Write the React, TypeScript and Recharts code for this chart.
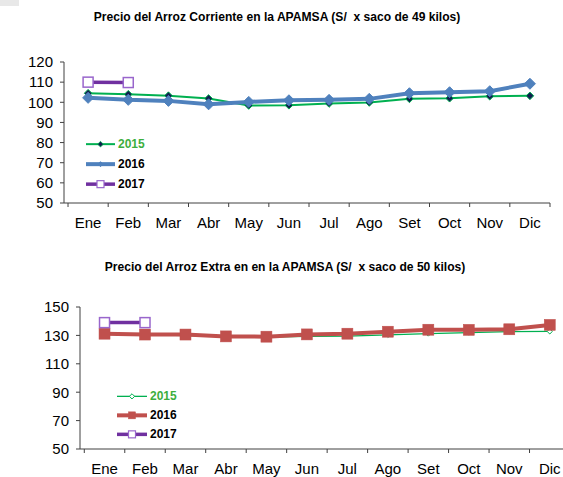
import { LineChart, Line, XAxis, YAxis } from "recharts";

const months = ["Ene", "Feb", "Mar", "Abr", "May", "Jun", "Jul", "Ago", "Set", "Oct", "Nov", "Dic"];
const years = ["2015", "2016", "2017"];

// Arroz corriente (S/ x saco de 49 kilos)
const corriente2015 = [104.5, 104, 103.3, 101.9, 98.4, 98.5, 99.4, 99.9, 101.7, 102, 103, 103.2];
const corriente2016 = [102.2, 101.2, 100.7, 99, 100.2, 101, 101.2, 101.7, 104.5, 105, 105.5, 109.2];
const corriente2017 = [110, 109.8];
const corrienteTicks = [50, 60, 70, 80, 90, 100, 110, 120];

// Arroz extra (S/ x saco de 50 kilos)
const extra2015 = [131, 130.6, 129.8, 129.3, 128.8, 129.3, 129.5, 130.4, 131.3, 132, 132.7, 132.8];
const extra2016 = [131.2, 130.6, 130.6, 129.3, 129.1, 130.7, 131.2, 132.6, 134, 133.9, 134.3, 137.4];
const extra2017 = [139, 139];
const extraTicks = [50, 70, 90, 110, 130, 150];

const FONT = "'Liberation Sans', Arial, sans-serif";
const AXIS = "#404040";

function buildRows(a: number[], b: number[], c: number[]) {
  return months.map((m, i) => ({
    x: i + 0.5,
    month: m,
    y2015: a[i],
    y2016: b[i],
    y2017: c[i] ?? null,
  }));
}

const corrienteRows = buildRows(corriente2015, corriente2016, corriente2017);
const extraRows = buildRows(extra2015, extra2016, extra2017);

// boundaries 0..12 get a tick mark, centres i+0.5 get the month name
const xTicks = [
  ...months.map((_, i) => i),
  months.length,
  ...months.map((_, i) => i + 0.5),
].sort((p, q) => p - q);

function MonthTick(props: any) {
  const { x, y, payload } = props;
  const v = payload.value as number;
  if (Number.isInteger(v)) {
    return <line x1={x} x2={x} y1={y} y2={y + 4} stroke={AXIS} strokeWidth={1} />;
  }
  return (
    <text x={x} y={y + 25} textAnchor="middle" fontSize={15} fontFamily={FONT} fill="#000">
      {months[Math.floor(v)]}
    </text>
  );
}

type Marker = (cx: number, cy: number, key?: any) => React.ReactElement;

const diamond = (r: number, fill: string, stroke: string, sw = 1): Marker => (cx, cy, key) => (
  <polygon
    key={key}
    points={`${cx},${cy - r} ${cx + r},${cy} ${cx},${cy + r} ${cx - r},${cy}`}
    fill={fill}
    stroke={stroke}
    strokeWidth={sw}
  />
);

const square = (s: number, fill: string, stroke: string, sw = 1): Marker => (cx, cy, key) => (
  <rect key={key} x={cx - s / 2} y={cy - s / 2} width={s} height={s} fill={fill} stroke={stroke} strokeWidth={sw} />
);

type SeriesStyle = {
  key: string;
  color: string;
  width: number;
  marker: Marker;
  legendMarker: Marker;
  legendText: string;
};

const corrienteStyles: SeriesStyle[] = [
  {
    key: "y2015", color: "#00B050", width: 2,
    marker: diamond(3.8, "#0F1F4F", "#00B050", 1),
    legendMarker: diamond(2.8, "#0F1F4F", "#00B050", 0.8),
    legendText: "#3DAE3D",
  },
  {
    key: "y2016", color: "#4F81BD", width: 4,
    marker: diamond(5.5, "#4F81BD", "#4F81BD", 1),
    legendMarker: diamond(2.5, "#4F81BD", "#4F81BD", 1),
    legendText: "#000",
  },
  {
    key: "y2017", color: "#7030A0", width: 3.5,
    marker: square(10, "#fff", "#9966CC", 1.5),
    legendMarker: square(7, "#fff", "#9966CC", 1.2),
    legendText: "#000",
  },
];

const extraStyles: SeriesStyle[] = [
  {
    key: "y2015", color: "#00B050", width: 1.3,
    marker: diamond(2.6, "#fff", "#00B050", 1),
    legendMarker: diamond(2.6, "#fff", "#00B050", 1),
    legendText: "#3DAE3D",
  },
  {
    key: "y2016", color: "#C0504D", width: 4,
    marker: square(11, "#C0504D", "#C0504D", 0.5),
    legendMarker: square(7, "#C0504D", "#C0504D", 0.5),
    legendText: "#000",
  },
  {
    key: "y2017", color: "#7030A0", width: 3.5,
    marker: square(10, "#fff", "#9966CC", 1.5),
    legendMarker: square(7, "#fff", "#9966CC", 1.2),
    legendText: "#000",
  },
];

function LegendBox({
  styles,
  rowH,
  lineW,
  left,
  top,
}: {
  styles: SeriesStyle[];
  rowH: number;
  lineW: number;
  left: number;
  top: number;
}) {
  return (
    <div style={{ position: "absolute", left, top }}>
      {styles.map((s, i) => (
        <div key={s.key} style={{ height: rowH, display: "flex", alignItems: "center" }}>
          <svg width={lineW} height={rowH} style={{ display: "block" }}>
            <line x1={0} x2={lineW} y1={rowH / 2} y2={rowH / 2} stroke={s.color} strokeWidth={s.width} />
            {s.legendMarker(lineW / 2, rowH / 2)}
          </svg>
          <span
            style={{
              marginLeft: 3,
              fontFamily: FONT,
              fontWeight: "bold",
              fontSize: 12,
              color: s.legendText,
              lineHeight: `${rowH}px`,
            }}
          >
            {years[i]}
          </span>
        </div>
      ))}
    </div>
  );
}

function PriceChart({
  rows,
  styles,
  width,
  height,
  margin,
  yWidth,
  xHeight,
  yDomain,
  yTicks,
  xMin,
}: {
  rows: any[];
  styles: SeriesStyle[];
  width: number;
  height: number;
  margin: { top: number; right: number; left: number; bottom: number };
  yWidth: number;
  xHeight: number;
  yDomain: [number, number];
  yTicks: number[];
  xMin: number;
}) {
  return (
    <LineChart width={width} height={height} data={rows} margin={margin} style={{ overflow: "visible" }}>
      <XAxis
        dataKey="x"
        type="number"
        domain={[xMin, 12]}
        ticks={xTicks}
        interval={0}
        allowDataOverflow
        height={xHeight}
        tickSize={0}
        tickMargin={0}
        tickLine={false}
        stroke={AXIS}
        tick={<MonthTick />}
      />
      <YAxis
        domain={yDomain}
        ticks={yTicks}
        interval={0}
        width={yWidth}
        tickSize={4}
        tickMargin={7}
        stroke={AXIS}
        tick={{ fontSize: 15, fontFamily: FONT, fill: "#000" }}
      />
      {styles.map((s) => (
        <Line
          key={s.key}
          dataKey={s.key}
          stroke={s.color}
          strokeWidth={s.width}
          isAnimationActive={false}
          connectNulls={false}
          dot={(p: any) => (p.cy == null ? <g key={p.index} /> : s.marker(p.cx, p.cy, p.index))}
          activeDot={false}
        />
      ))}
    </LineChart>
  );
}

const titleStyle: React.CSSProperties = {
  position: "absolute",
  transform: "translateX(-50%) scaleX(0.93)",
  whiteSpace: "pre",
  fontFamily: FONT,
  fontWeight: "bold",
  fontSize: 13,
  lineHeight: "15px",
  color: "#000",
};

export default function App() {
  return (
    <div
      style={{
        position: "fixed",
        left: 0,
        top: 0,
        width: 563,
        height: 477,
        overflow: "hidden",
        background: "#fff",
      }}
    >
      <div style={{ position: "absolute", left: 0, top: 0, width: 19, height: 6, background: "#e8e8e8" }} />
      <div style={{ ...titleStyle, left: 276.5, top: 9 }}>
        Precio del Arroz Corriente en la APAMSA (S/  x saco de 49 kilos)
      </div>
      <div style={{ position: "absolute", left: 0, top: 0 }}>
        <PriceChart
          rows={corrienteRows}
          styles={corrienteStyles}
          width={563}
          height={240}
          margin={{ top: 62, right: 13, left: 0, bottom: 0 }}
          yWidth={64}
          xHeight={37}
          yDomain={[50, 120]}
          yTicks={corrienteTicks}
          xMin={-0.1}
        />
        <LegendBox styles={corrienteStyles} rowH={20.3} lineW={29} left={86} top={133.5} />
      </div>
      <div style={{ ...titleStyle, left: 284.5, top: 259 }}>
        Precio del Arroz Extra en en la APAMSA (S/  x saco de 50 kilos)
      </div>
      <div style={{ position: "absolute", left: 0, top: 240 }}>
        <PriceChart
          rows={extraRows}
          styles={extraStyles}
          width={580}
          height={237}
          margin={{ top: 67, right: 10, left: 0, bottom: 0 }}
          yWidth={80}
          xHeight={28}
          yDomain={[50, 150]}
          yTicks={extraTicks}
          xMin={-0.106}
        />
        <LegendBox styles={extraStyles} rowH={18.7} lineW={30} left={117} top={147.3} />
      </div>
    </div>
  );
}
